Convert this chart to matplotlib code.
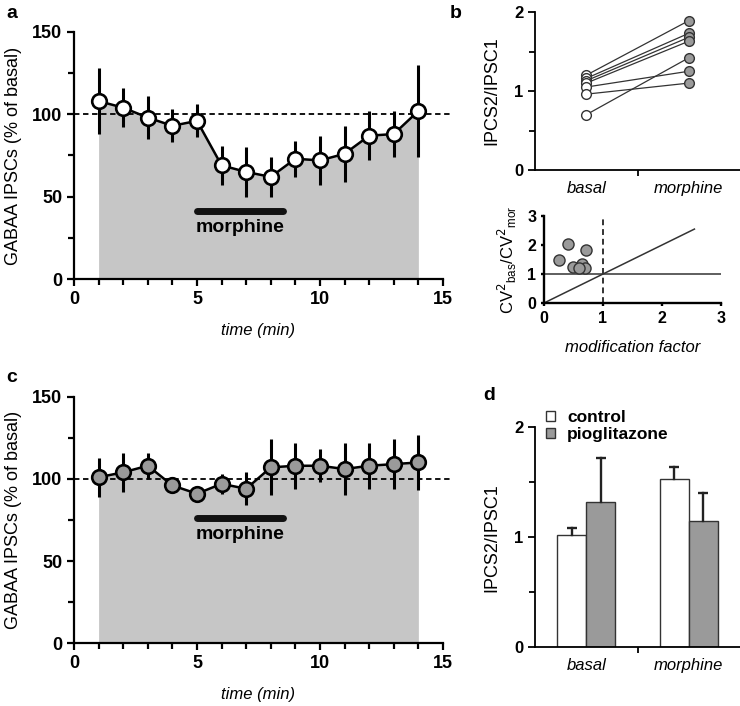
#!/usr/bin/env python3
"""Morphine effect on GABAA IPSCs: time courses, paired ratios, CV analysis."""

import matplotlib
matplotlib.use("Agg")
import matplotlib.pyplot as plt
from matplotlib.patches import Patch
from matplotlib.ticker import MultipleLocator

plt.rcParams["font.family"] = ["Liberation Sans", "DejaVu Sans"]

# ---- data -------------------------------------------------------------
time_min = [1, 2, 3, 4, 5, 6, 7, 8, 9, 10, 11, 12, 13, 14]

ipsc_a = [108, 104, 98, 93, 96, 69, 65, 62, 73, 72, 76, 87, 88, 102]
err_a = [20, 12, 13, 10, 10, 12, 15, 12, 11, 15, 17, 15, 14, 28]

ipsc_c = [101, 104, 108, 96, 91, 97, 94, 107, 108, 108, 106, 108, 109, 110]
err_c = [12, 12, 8, 3, 3, 6, 10, 17, 14, 10, 16, 14, 15, 17]

morphine_span = [5, 8.5]

ratio_basal = [1.20, 1.16, 1.13, 1.10, 1.05, 0.96, 0.70]
ratio_morphine = [1.89, 1.73, 1.68, 1.63, 1.25, 1.10, 1.42]

mod_factor = [0.41, 0.25, 0.71, 0.50, 0.64, 0.69, 0.60]
cv_ratio = [2.05, 1.48, 1.82, 1.25, 1.35, 1.20, 1.22]

groups = ["basal", "morphine"]
control_mean = [1.02, 1.53]
control_err = [0.06, 0.11]
pio_mean = [1.32, 1.15]
pio_err = [0.40, 0.25]

FILL = "#c6c6c6"
DARK = "#9a9a9a"
TICK_FS = 13
LABEL_FS = 13


def style_axes(ax, lw=1.6, fs=TICK_FS):
    for side in ["top", "right"]:
        ax.spines[side].set_visible(False)
    for side in ["left", "bottom"]:
        ax.spines[side].set_linewidth(lw)
    ax.tick_params(which="major", length=5, width=lw, labelsize=fs)
    ax.tick_params(which="minor", length=4, width=lw)
    for lab in ax.get_xticklabels() + ax.get_yticklabels():
        lab.set_fontweight("bold")


def time_course(ax, y, err, face):
    ax.fill_between(time_min, 0, y, color=FILL, linewidth=0, zorder=1)
    ax.plot([0, 15.3], [100, 100], color="black", linestyle=(0, (3, 2)), linewidth=1.3, zorder=2, clip_on=False)
    ax.errorbar(time_min, y, yerr=err, fmt="none", ecolor="black", elinewidth=2.2, capsize=0, zorder=3)
    ax.plot(time_min, y, color="black", linewidth=1.8, marker="o", markersize=10.5,
            markerfacecolor=face, markeredgecolor="black", markeredgewidth=1.9, zorder=4)
    ax.set_xlim(0, 15)
    ax.set_ylim(0, 150)
    ax.set_xticks([0, 5, 10, 15])
    ax.set_yticks([0, 50, 100, 150])
    ax.xaxis.set_minor_locator(MultipleLocator(1))
    ax.yaxis.set_minor_locator(MultipleLocator(25))
    style_axes(ax)
    ax.set_xlabel("time (min)", fontsize=12, style="italic", labelpad=11)
    ax.set_ylabel("GABAA IPSCs (% of basal)", fontsize=LABEL_FS, labelpad=7)


def up_errors(ax, x, y, e):
    for xi, yi, ei in zip(x, y, e):
        ax.plot([xi, xi], [yi, yi + ei], color="#222222", linewidth=1.7, zorder=3)
        ax.plot([xi], [yi + ei], marker="_", markersize=7, markeredgewidth=1.7, color="#222222", zorder=3)


fig = plt.figure(figsize=(7.4, 7.06), dpi=100)

# ---- panel a ------------------------------------------------------------
ax_a = fig.add_axes([0.1, 0.6048, 0.4986, 0.35])
time_course(ax_a, ipsc_a, err_a, "white")
ax_a.plot(morphine_span, [41, 41], color="#111111", linewidth=5, solid_capstyle="round", zorder=5)
ax_a.text(sum(morphine_span) / 2, 31, "morphine", ha="center", va="center", fontsize=14, fontweight="bold")

# ---- panel c ------------------------------------------------------------
ax_c = fig.add_axes([0.1, 0.0888, 0.4986, 0.3493])
time_course(ax_c, ipsc_c, err_c, DARK)
ax_c.plot(morphine_span, [76, 76], color="#111111", linewidth=5, solid_capstyle="round", zorder=5)
ax_c.text(sum(morphine_span) / 2, 66, "morphine", ha="center", va="center", fontsize=14, fontweight="bold")

# ---- panel b ------------------------------------------------------------
ax_b = fig.add_axes([0.723, 0.7592, 0.277, 0.2238])
for yb, ym in zip(ratio_basal, ratio_morphine):
    ax_b.plot([0.5, 1.5], [yb, ym], color="#333333", linewidth=0.9, zorder=2)
ax_b.plot([0.5] * len(ratio_basal), ratio_basal, "o", markersize=7, markerfacecolor="white",
          markeredgecolor="#333333", markeredgewidth=1.0, zorder=3)
ax_b.plot([1.5] * len(ratio_morphine), ratio_morphine, "o", markersize=7, markerfacecolor=DARK,
          markeredgecolor="#333333", markeredgewidth=1.0, zorder=3)
ax_b.set_xlim(0, 2)
ax_b.set_ylim(0, 2)
ax_b.set_yticks([0, 1, 2])
ax_b.yaxis.set_minor_locator(MultipleLocator(0.5))
ax_b.set_xticks([0.5, 1.5])
ax_b.set_xticklabels(groups)
ax_b.set_xticks([1], minor=True)
style_axes(ax_b, lw=1.3, fs=12)
ax_b.tick_params(axis="x", which="major", length=0, labelsize=12, pad=8)
for lab in ax_b.get_xticklabels():
    lab.set_fontweight("normal")
    lab.set_fontstyle("italic")
ax_b.set_ylabel("IPCS2/IPSC1", fontsize=LABEL_FS, labelpad=10)

# ---- inset: CV analysis ----------------------------------------------------
ax_i = fig.add_axes([0.7351, 0.5708, 0.2392, 0.1232])
ax_i.plot([0, 3], [1, 1], color="#333333", linewidth=1.1)
ax_i.plot([0, 2.55], [0, 2.55], color="#333333", linewidth=1.1)
ax_i.plot([1, 1], [0, 3], color="#333333", linewidth=1.4, linestyle=(0, (3, 2)))
ax_i.plot(mod_factor, cv_ratio, "o", markersize=8, markerfacecolor=DARK,
          markeredgecolor="#333333", markeredgewidth=1.0, zorder=3)
ax_i.set_xlim(0, 3)
ax_i.set_ylim(0, 3)
ax_i.set_xticks([0, 1, 2, 3])
ax_i.set_yticks([0, 1, 2, 3])
style_axes(ax_i, lw=1.7, fs=11.5)
ax_i.tick_params(which="major", length=2)
ax_i.set_xlabel("modification factor", fontsize=12, style="italic", labelpad=10)
ax_i.set_ylabel(r"CV$^2$$_{\mathregular{bas}}$/CV$^2$$_{\mathregular{mor}}$", fontsize=12, labelpad=6)

# ---- panel d ------------------------------------------------------------
ax_d = fig.add_axes([0.723, 0.0832, 0.277, 0.3116])
pos = [0.5, 1.5]
w = 0.285
x_ctrl = [p - w / 2 for p in pos]
x_pio = [p + w / 2 for p in pos]
ax_d.bar(x_ctrl, control_mean, width=w, color="white", edgecolor="#333333", linewidth=1.0, zorder=2)
ax_d.bar(x_pio, pio_mean, width=w, color=DARK, edgecolor="#333333", linewidth=1.0, zorder=2)
up_errors(ax_d, x_ctrl, control_mean, control_err)
up_errors(ax_d, x_pio, pio_mean, pio_err)
ax_d.set_xlim(0, 2)
ax_d.set_ylim(0, 2)
ax_d.set_yticks([0, 1, 2])
ax_d.yaxis.set_minor_locator(MultipleLocator(0.5))
ax_d.set_xticks(pos)
ax_d.set_xticklabels(groups)
ax_d.set_xticks([1], minor=True)
style_axes(ax_d, lw=1.3, fs=12)
ax_d.tick_params(axis="x", which="major", length=0, labelsize=12, pad=8)
for lab in ax_d.get_xticklabels():
    lab.set_fontweight("normal")
    lab.set_fontstyle("italic")
ax_d.set_ylabel("IPCS2/IPSC1", fontsize=LABEL_FS, labelpad=10)
handles = [Patch(facecolor="white", edgecolor="#333333", label="control"),
           Patch(facecolor=DARK, edgecolor="#333333", label="pioglitazone")]
ax_d.legend(handles=handles, loc="upper left", bbox_to_anchor=(0.02, 1.11), frameon=False,
            handlelength=0.5, handleheight=0.5, handletextpad=0.7, labelspacing=0.1,
            borderaxespad=0, prop={"weight": "bold", "size": 12.5})

# ---- panel letters --------------------------------------------------------
for letter, (x, y) in {"a": (6, 14), "b": (450, 14), "c": (6, 378), "d": (483, 396)}.items():
    fig.text(x / 740, 1 - y / 706, letter, fontsize=14, fontweight="bold", va="center", ha="left")

fig.savefig("out.png", dpi=100)
